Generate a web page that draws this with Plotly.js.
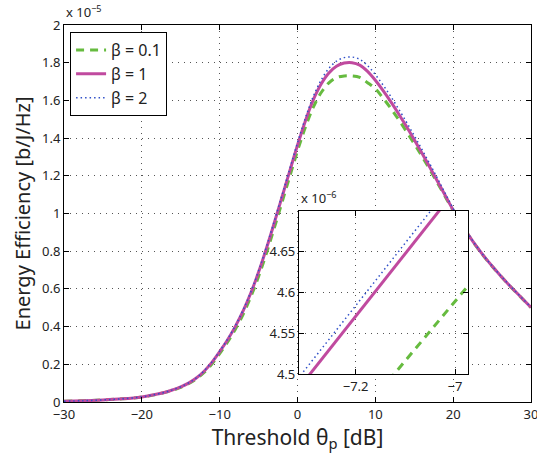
<!DOCTYPE html>
<html>
<head>
<meta charset="utf-8">
<script src="https://cdn.plot.ly/plotly-3.0.1.min.js"></script>
<style>html,body{margin:0;padding:0;background:#fff;}#chart{width:537px;height:455px;}</style>
</head>
<body>
<div id="chart"></div>
<script>
// Main chart data (values in units of 1e-5 b/J/Hz)
const thetaDb = [-30,-27.5,-25,-22.5,-20,-19,-18,-17,-16,-15,-14,-13,-12,-11,-10,-9,-8,-7,-6,-5,-4,-3,-2,-1,0,1,2,3,4,5,6,7,8,9,10,11,12,13,14,15,16,17,18,19,20,21,22,23,24,25,26,27,28,29,30];
const eeBeta01 = [0.004,0.007,0.011,0.017,0.026,0.033,0.041,0.051,0.063,0.078,0.097,0.123,0.157,0.202,0.257,0.317,0.385,0.464,0.558,0.666,0.788,0.921,1.058,1.196,1.332,1.456,1.561,1.639,1.692,1.721,1.730,1.730,1.722,1.694,1.662,1.612,1.557,1.498,1.435,1.370,1.303,1.233,1.161,1.088,1.015,0.947,0.883,0.824,0.770,0.720,0.673,0.628,0.585,0.543,0.501];
const eeBeta1  = [0.004,0.007,0.011,0.017,0.027,0.034,0.042,0.052,0.065,0.080,0.100,0.127,0.163,0.210,0.267,0.329,0.400,0.482,0.578,0.689,0.814,0.948,1.086,1.225,1.362,1.490,1.600,1.684,1.744,1.781,1.798,1.800,1.787,1.754,1.707,1.652,1.592,1.528,1.461,1.391,1.319,1.245,1.170,1.094,1.018,0.948,0.884,0.825,0.771,0.721,0.674,0.629,0.586,0.544,0.502];
const eeBeta2  = [0.004,0.007,0.011,0.017,0.027,0.034,0.042,0.052,0.065,0.081,0.101,0.128,0.165,0.212,0.270,0.332,0.404,0.487,0.584,0.696,0.822,0.957,1.096,1.236,1.375,1.505,1.618,1.705,1.768,1.808,1.827,1.830,1.818,1.785,1.737,1.681,1.620,1.554,1.485,1.413,1.339,1.263,1.185,1.106,1.026,0.953,0.887,0.827,0.772,0.722,0.675,0.630,0.587,0.545,0.503];
// Inset data (values in units of 1e-6)
const insetTheta = [-7.35,-7.2,-7.05,-6.9];
const insetBeta01 = [4.334,4.443,4.553,4.662];
const insetBeta1  = [4.455,4.571,4.686,4.802];
const insetBeta2  = [4.468,4.584,4.699,4.815];
const legendNames = ['β = 0.1','β = 1','β = 2'];
const mainXTicks = [-30,-20,-10,0,10,20,30];
const mainYTicks = [0,0.2,0.4,0.6,0.8,1,1.2,1.4,1.6,1.8,2];
const insetXTicks = [-7.2,-7];
const insetYTicks = [4.5,4.55,4.6,4.65];

const FONT = 'Noto Sans, sans-serif';
const cGreen = '#66bb3f', cMag = '#c04a9f', cBlue = '#3050c8';

const traces = [
  {x: thetaDb, y: eeBeta01, name: legendNames[0], mode: 'lines', line: {color: cGreen, width: 3, dash: '8px,6px', shape: 'spline', smoothing: 1}},
  {x: thetaDb, y: eeBeta1, name: legendNames[1], mode: 'lines', line: {color: cMag, width: 3, shape: 'spline', smoothing: 1}},
  {x: thetaDb, y: eeBeta2, name: legendNames[2], mode: 'lines', line: {color: cBlue, width: 1.5, dash: '1.5px,3px', shape: 'spline', smoothing: 1}},
  {x: insetTheta, y: insetBeta01, xaxis: 'x2', yaxis: 'y2', showlegend: false, mode: 'lines', line: {color: cGreen, width: 3, dash: '8px,6px'}},
  {x: insetTheta, y: insetBeta1, xaxis: 'x2', yaxis: 'y2', showlegend: false, mode: 'lines', line: {color: cMag, width: 3}},
  {x: insetTheta, y: insetBeta2, xaxis: 'x2', yaxis: 'y2', showlegend: false, mode: 'lines', line: {color: cBlue, width: 1.5, dash: '1.5px,3px'}}
];

const axisCommon = {
  showline: true, linecolor: '#000', linewidth: 1, mirror: 'ticks',
  ticks: 'inside', ticklen: 5, tickcolor: '#000',
  showgrid: true, gridcolor: '#555', gridwidth: 1, griddash: '1px,5px',
  zeroline: false, ticklabeloverflow: 'allow', tickfont: {family: FONT, size: 13, color: '#222'}
};

const layout = {
  width: 537, height: 455,
  margin: {l: 64, r: 6, t: 25, b: 53},
  paper_bgcolor: '#fff', plot_bgcolor: '#fff',
  font: {family: FONT, color: '#222'},
  showlegend: true,
  legend: {x: 0.013, y: 0.981, xanchor: 'left', yanchor: 'top', bordercolor: '#000', borderwidth: 1,
           bgcolor: '#fff', font: {family: FONT, size: 16, color: '#222'}, tracegroupgap: 0},
  xaxis: Object.assign({}, axisCommon, {range: [-30, 30], tickvals: mainXTicks, domain: [0, 1], anchor: 'y',
          title: {text: 'Threshold θ<sub>p</sub> [dB]', font: {family: FONT, size: 21, color: '#222'}, standoff: 4}}),
  yaxis: Object.assign({}, axisCommon, {range: [0, 2], tickvals: mainYTicks, domain: [0, 1], anchor: 'x',
          title: {text: 'Energy Efficiency [b/J/Hz]', font: {family: FONT, size: 20, color: '#222'}, standoff: 6}}),
  xaxis2: Object.assign({}, axisCommon, {range: [-7.314, -6.974], tickvals: insetXTicks, domain: [0.503, 0.865], anchor: 'y2'}),
  yaxis2: Object.assign({}, axisCommon, {range: [4.5, 4.7], tickvals: insetYTicks, domain: [0.0743, 0.5066], anchor: 'x2'}),
  shapes: [
    {type: 'rect', xref: 'x2', yref: 'y2', x0: -7.314, x1: -6.974, y0: 4.5, y1: 4.7,
     fillcolor: '#fff', line: {width: 0}, layer: 'below'}
  ],
  annotations: [
    {xref: 'paper', yref: 'paper', x: 0, y: 1, xanchor: 'left', yanchor: 'bottom', yshift: 2, showarrow: false,
     text: 'x 10<sup>−5</sup>', font: {family: FONT, size: 13, color: '#222'}},
    {xref: 'x2 domain', yref: 'y2 domain', x: 0, y: 1, xanchor: 'left', yanchor: 'bottom', yshift: 2, showarrow: false,
     text: 'x 10<sup>−6</sup>', font: {family: FONT, size: 13, color: '#222'}}
  ]
};

Plotly.newPlot('chart', traces, layout, {displayModeBar: false, staticPlot: true});
</script>
</body>
</html>
